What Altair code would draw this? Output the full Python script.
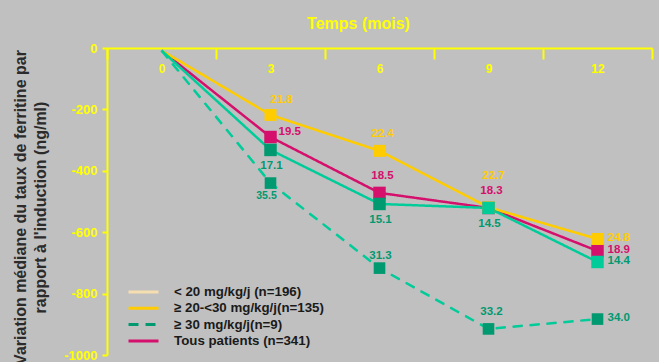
import altair as alt
import pandas as pd

# Months since start of treatment
months = [0, 3, 6, 9, 12]

series_names = [
    "< 20 mg/kg/j (n=196)",
    "≥ 20-<30 mg/kg/j(n=135)",
    "≥ 30 mg/kg/j(n=9)",
    "Tous patients (n=341)",
]

# Median change in serum ferritin (ng/ml) from baseline
change_lt20 = [-8, -332, -508, -521, -697]
change_20_30 = [-8, -218, -335, -519, -622]
change_ge30 = [-8, -440, -717, -915, -883]
change_all = [-8, -290, -472, -521, -661]

# Median dose (mg/kg/j) printed next to each point
dose_lt20 = ["", "17.1", "15.1", "14.5", "14.4"]
dose_20_30 = ["", "21.8", "22.4", "22.7", "24.8"]
dose_ge30 = ["", "35.5", "31.3", "33.2", "34.0"]
dose_all = ["", "19.5", "18.5", "18.3", "18.9"]

# ---- styling ----
FONT = "Liberation Sans"
YELLOW = "#ffff00"
GOLD = "#ffcc00"
MAGENTA = "#d40f6c"
TEAL = "#00cc99"
DARK_GREEN = "#009970"

legend_colors = ["#f5deb0", GOLD, DARK_GREEN, MAGENTA]
line_colors = {series_names[0]: TEAL, series_names[1]: GOLD,
               series_names[2]: TEAL, series_names[3]: MAGENTA}
label_colors = {series_names[0]: DARK_GREEN, series_names[1]: GOLD,
                series_names[2]: DARK_GREEN, series_names[3]: MAGENTA}
marker_colors = {series_names[0]: DARK_GREEN, series_names[1]: GOLD,
                 series_names[2]: DARK_GREEN, series_names[3]: MAGENTA}
light_markers = {(series_names[0], 9), (series_names[0], 12)}
marker_sizes = {series_names[0]: 156, series_names[1]: 144,
                series_names[2]: 135, series_names[3]: 156}
dashes = [[1, 0], [1, 0], [10, 7], [1, 0]]

# where each dose label sits relative to its point
placements = {
    series_names[0]: [None, "below", "below", "below", "right"],
    series_names[1]: [None, "upper_right", "above", "high", "right"],
    series_names[2]: [None, "below_small", "above_near", "above", "right"],
    series_names[3]: [None, "right_up", "above", "above", "right"],
}
offsets = {
    "below": dict(dx=1, dy=16, align="center", fontSize=11.5),
    "below_small": dict(dx=-4, dy=13, align="center", fontSize=10.5),
    "above": dict(dx=3, dy=-17, align="center", fontSize=11.5),
    "above_near": dict(dx=1, dy=-12, align="center", fontSize=11.5),
    "high": dict(dx=5, dy=-31, align="center", fontSize=11.5),
    "upper_right": dict(dx=11, dy=-15, align="center", fontSize=11.5),
    "right_up": dict(dx=8, dy=-5, align="left", fontSize=11.5),
    "right": dict(dx=10, dy=-1, align="left", fontSize=11.5),
}

rows = []
all_changes = [change_lt20, change_20_30, change_ge30, change_all]
all_doses = [dose_lt20, dose_20_30, dose_ge30, dose_all]
# later series first, so the < 20 markers end up on top
for name, vals, doses in reversed(list(zip(series_names, all_changes, all_doses))):
    for i, m in enumerate(months):
        rows.append(dict(
            series=name, month=str(m), order=i, change=vals[i], dose=doses[i],
            place=placements[name][i] or "none",
            lcolor=line_colors[name], tcolor=label_colors[name],
            mcolor=TEAL if (name, m) in light_markers else marker_colors[name],
            msize=marker_sizes[name],
        ))
df = pd.DataFrame(rows)

month_order = [str(m) for m in months]
PLOT_H = 307

x_enc = alt.X(
    "month:O", sort=month_order,
    scale=alt.Scale(type="band", paddingInner=0, paddingOuter=0),
    axis=alt.Axis(
        orient="bottom", offset=-PLOT_H, title=None, tickBand="extent",
        labelAngle=0, domainColor=YELLOW, domainWidth=2, tickColor=YELLOW,
        tickWidth=2, tickSize=11, labelPadding=4, labelColor=YELLOW,
        labelFont=FONT, labelFontSize=12, labelFontWeight="bold",
    ),
)
y_enc = alt.Y(
    "change:Q",
    scale=alt.Scale(domain=[-1000, 0], nice=False),
    axis=alt.Axis(
        values=[0, -200, -400, -600, -800, -1000], grid=False,
        labelExpr="'' + datum.value",
        domainColor=YELLOW, domainWidth=2, tickColor=YELLOW, tickWidth=2,
        tickSize=5, labelPadding=5, labelColor=YELLOW, labelFont=FONT,
        labelFontSize=13, labelFontWeight="bold",
        title=["Variation médiane du taux de ferritine par",
               "rapport à l'induction (ng/ml)"],
        titleFont=FONT, titleFontSize=16, titleFontWeight="bold",
        titleColor="#2b2b2b", titleAngle=-90, titleX=-87, titleY=159,
        titleAlign="center", titleBaseline="middle", titleLineHeight=20,
    ),
)

base = alt.Chart(df)

# thin copy underneath that carries the legend colours and dash styles
legend_lines = base.mark_line(strokeWidth=1).encode(
    x=x_enc, y=y_enc,
    color=alt.Color("series:N", sort=series_names,
                    scale=alt.Scale(domain=series_names, range=legend_colors),
                    legend=alt.Legend(title=None)),
    strokeDash=alt.StrokeDash("series:N", sort=series_names,
                              scale=alt.Scale(domain=series_names, range=dashes),
                              legend=alt.Legend(title=None)),
    order="order:Q",
)

lines = base.mark_line(strokeWidth=2.5).encode(
    x=x_enc, y=y_enc,
    stroke=alt.Stroke("lcolor:N", scale=None),
    strokeDash=alt.StrokeDash("series:N", sort=series_names,
                              scale=alt.Scale(domain=series_names, range=dashes),
                              legend=alt.Legend(title=None)),
    detail="series:N",
    order="order:Q",
)

markers = base.transform_filter("datum.order > 0").mark_square(
    opacity=1, filled=True
).encode(
    x=x_enc, y=y_enc,
    fill=alt.Fill("mcolor:N", scale=None),
    size=alt.Size("msize:Q", scale=None),
)

label_layers = []
for key, opt in offsets.items():
    label_layers.append(
        base.transform_filter(alt.datum.place == key).mark_text(
            dx=opt["dx"], dy=opt["dy"], align=opt["align"], baseline="middle",
            font=FONT, fontSize=opt["fontSize"], fontWeight="bold",
        ).encode(
            x=x_enc, y=y_enc, text="dose:N",
            fill=alt.Fill("tcolor:N", scale=None),
        )
    )

chart = alt.layer(legend_lines, lines, markers, *label_layers).properties(
    width=545, height=PLOT_H,
    title=alt.TitleParams(
        "Temps (mois)", color=YELLOW, font=FONT, fontSize=16,
        fontWeight="bold", anchor="middle", dx=-21, offset=10,
    ),
    autosize=alt.AutoSizeParams(type="none"),
    padding={"left": 107, "top": 48, "right": 7, "bottom": 7},
).configure(
    background="#c0c0c0",
).configure_view(
    stroke=None,
).configure_legend(
    orient="none", legendX=27.5, legendY=235,
    # a long horizontal stroke on a small symbol box keeps the rows tight
    symbolType="M-2,0H2", symbolSize=225, symbolStrokeWidth=3,
    labelFont=FONT, labelFontSize=13.3, labelFontWeight="bold",
    labelColor="#1a1a1a", labelOffset=21.5, rowPadding=0.3, labelLimit=300,
)

chart.save("out.html", embed_options={"renderer": "svg", "actions": False})
